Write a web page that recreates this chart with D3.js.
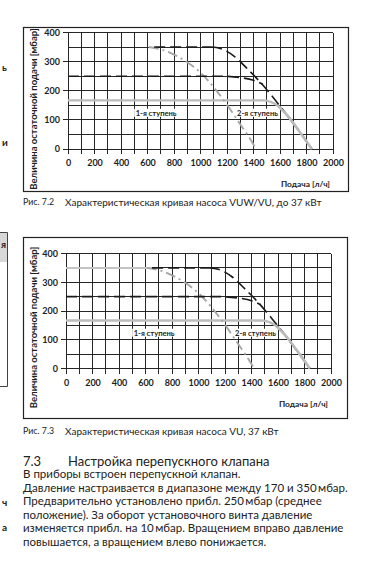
<!DOCTYPE html>
<html>
<head>
<meta charset="utf-8">
<script src="https://cdn.jsdelivr.net/npm/d3@7"></script>
<style>
  body { margin: 0; background: #fff; }
  svg { display: block; font-family: Lato, "Noto Sans", sans-serif; }
</style>
</head>
<body>
<svg id="page" width="371" height="564"></svg>
<script>
// axis tick labels
const flowTicks = [0, 200, 400, 600, 800, 1000, 1200, 1400, 1600, 1800, 2000];
const pressTicks = [0, 100, 200, 300, 400];

// 1st stage pump curve (grey dash-dot)
const stage1Flow = [610, 700, 800, 900, 1000, 1100, 1200, 1300, 1360, 1420];
const stage1Press = [350, 342, 324, 298, 262, 212, 152, 85, 45, 0];

// 2nd stage pump curve (black dashed)
const stage2Flow = [1080, 1150, 1250, 1350, 1450, 1550, 1650, 1750, 1840];
const stage2Press = [350, 345, 320, 277, 230, 176, 118, 58, 0];

// bypass valve settings
const set350Flow = [650, 1080];
const set350Press = [350, 350];
const set350LeftFlow = [0, 650];
const set350LeftPress = [350, 350];
const set250Flow = [0, 1150, 1300, 1400, 1470];
const set250Press = [250, 250, 245, 236, 222];
const set170Flow = [0, 1480, 1530, 1580, 1650, 1750, 1840];
const set170Press = [167, 167, 162, 150, 118, 58, 0];

// curve labels
const stageNames = ['1-я ступень', '2-я ступень'];
const stageLabelFlow = [665, 1430];
const stageLabelPress = [123, 123];

const zip = (a, b) => a.map((v, i) => [v, b[i]]);

const svg = d3.select('#page');
svg.append('rect').attr('width', 371).attr('height', 564).attr('fill', '#fff');

const charts = [
    {
        frame: [23, 27, 348, 191], xr: [68, 333], yr: [149, 32.5],
        fig: 'Рис. 7.2', caption: 'Характеристическая кривая насоса VUW/VU, до 37 кВт',
        capY: 202, leftLine: false,
    },
    {
        frame: [23, 237, 347, 418], xr: [66, 331], yr: [368.5, 253.5],
        fig: 'Рис. 7.3', caption: 'Характеристическая кривая насоса VU, 37 кВт',
        capY: 431, leftLine: true,
    },
];

charts.forEach((c) => {
    const g = svg.append('g');
    const x = d3.scaleLinear().domain([0, 2000]).range(c.xr);
    const y = d3.scaleLinear().domain([0, 400]).range(c.yr);
    const [fx0, fy0, fx1, fy1] = c.frame;

    g.append('rect')
        .attr('x', fx0 + 0.5).attr('y', fy0 + 0.5)
        .attr('width', fx1 - fx0).attr('height', fy1 - fy0)
        .attr('fill', 'none').attr('stroke', '#222').attr('stroke-width', 1.2);

    // grid
    const grid = g.append('g').attr('stroke', '#262626').attr('stroke-width', 1)
        .attr('shape-rendering', 'crispEdges');
    grid.selectAll('.v').data(d3.range(0, 2001, 100)).join('line')
        .attr('x1', (d) => x(d)).attr('x2', (d) => x(d))
        .attr('y1', y(400)).attr('y2', y(0) + 5);
    grid.selectAll('.h').data(d3.range(0, 401, 50)).join('line')
        .attr('x1', (d) => (d % 100 === 0 ? x(0) - 5 : x(0))).attr('x2', x(2000))
        .attr('y1', (d) => y(d)).attr('y2', (d) => y(d));

    // axes (labels only, grid does the lines)
    const xAxis = g.append('g').attr('transform', `translate(0,${y(0)})`)
        .call(d3.axisBottom(x).tickValues(flowTicks).tickFormat(d3.format('d'))
            .tickSize(0).tickPadding(11));
    const yAxis = g.append('g').attr('transform', `translate(${x(0)},0)`)
        .call(d3.axisLeft(y).tickValues(pressTicks).tickFormat(d3.format('d'))
            .tickSize(0).tickPadding(8));
    [xAxis, yAxis].forEach((a) => {
        a.select('.domain').remove();
        a.selectAll('text').attr('font-family', 'Lato, sans-serif')
            .attr('font-size', 9).attr('font-weight', 700).attr('fill', '#1e1e1e');
    });

    // axis titles
    const yMid = (fy0 + fy1) / 2;
    g.append('text')
        .attr('transform', `translate(${fx0 + 14},${yMid}) rotate(-90)`)
        .attr('text-anchor', 'middle').attr('font-size', 9.5).attr('font-weight', 700)
        .attr('fill', '#1e1e1e')
        .text('Величина остаточной подачи [мбар]');
    g.append('text')
        .attr('x', x(2000) - 3).attr('y', y(0) + 38)
        .attr('text-anchor', 'end').attr('font-size', 8.4).attr('font-weight', 700)
        .attr('fill', '#1e1e1e')
        .text('Подача [л/ч]');

    // stage labels on white
    stageNames.forEach((name, i) => {
        const t = g.append('text')
            .attr('x', x(stageLabelFlow[i])).attr('y', y(stageLabelPress[i]) + 2.6)
            .attr('text-anchor', 'middle').attr('font-size', 7.6).attr('font-weight', 700)
            .attr('fill', '#1e1e1e').text(name);
        const b = t.node().getBBox();
        g.insert('rect', () => t.node())
            .attr('x', b.x - 1.5).attr('y', b.y + 1).attr('width', b.width + 3)
            .attr('height', b.height - 2).attr('fill', '#fff');
    });

    const line = d3.line().x((d) => x(d[0])).y((d) => y(d[1])).curve(d3.curveMonotoneX);

    if (c.leftLine) {
        g.append('path').attr('d', line(zip(set350LeftFlow, set350LeftPress)))
            .attr('fill', 'none').attr('stroke', '#c4c4c4').attr('stroke-width', 2);
    }
    g.append('path').attr('d', line(zip(set170Flow, set170Press)))
        .attr('fill', 'none').attr('stroke', '#bcbcbc').attr('stroke-width', 2.4);
    g.append('path').attr('d', line(zip(stage1Flow, stage1Press)))
        .attr('fill', 'none').attr('stroke', '#a6a6a6').attr('stroke-width', 1.9)
        .attr('stroke-dasharray', '10,4,2,4');
    g.append('path').attr('d', line(zip(set250Flow, set250Press)))
        .attr('fill', 'none').attr('stroke', '#1a1a1a').attr('stroke-width', 1.6)
        .attr('stroke-dasharray', '11,5');
    g.append('path').attr('d', line(zip(set350Flow, set350Press)))
        .attr('fill', 'none').attr('stroke', '#1a1a1a').attr('stroke-width', 1.6)
        .attr('stroke-dasharray', '11,5');
    g.append('path').attr('d', line(zip(stage2Flow, stage2Press)))
        .attr('fill', 'none').attr('stroke', '#1a1a1a').attr('stroke-width', 1.6)
        .attr('stroke-dasharray', '11,5');
    // grey 170 curve runs over the lower part of the 2nd stage curve
    g.append('path').attr('d', line(zip(set170Flow, set170Press).slice(3)))
        .attr('fill', 'none').attr('stroke', '#bcbcbc').attr('stroke-width', 2.4);

    // caption
    svg.append('text').attr('x', 23).attr('y', c.capY + 3.3)
        .attr('font-size', 8.8).attr('fill', '#222').text(c.fig);
    svg.append('text').attr('x', 65).attr('y', c.capY + 3.5)
        .attr('font-size', 10).attr('fill', '#222').text(c.caption);
});

// clipped fragments from the neighbouring column
svg.append('rect').attr('x', -1).attr('y', 232).attr('width', 8).attr('height', 30)
    .attr('fill', '#d8d8d8');
svg.append('path').attr('d', 'M0,232.5H7.5V386.5H0').attr('fill', 'none')
    .attr('stroke', '#444').attr('stroke-width', 1);
const frag = [['ь', 2, 71], ['и', 2, 146], ['я', 1, 248], ['ч', 2, 506], ['а', 2, 531]];
frag.forEach(([t, fx, fy]) => {
    svg.append('text').attr('x', fx).attr('y', fy).attr('font-size', 10)
        .attr('font-weight', 700).attr('fill', '#222').text(t);
});

// section text
svg.append('text').attr('x', 23).attr('y', 465.5).attr('font-size', 13).attr('fill', '#222').text('7.3');
svg.append('text').attr('x', 68).attr('y', 465.5).attr('font-size', 13).attr('fill', '#222')
    .text('Настройка перепускного клапана');
const bodyLines = [
    'В приборы встроен перепускной клапан.',
    'Давление настраивается в диапазоне между 170 и 350\u2009мбар.',
    'Предварительно установлено прибл. 250\u2009мбар (среднее',
    'положение). За оборот установочного винта давление',
    'изменяется прибл. на 10\u2009мбар. Вращением вправо давление',
    'повышается, а вращением влево понижается.',
];
svg.append('g').selectAll('text').data(bodyLines).join('text')
    .attr('x', 23).attr('y', (d, i) => 478 + i * 13.5)
    .attr('font-size', 11.5).attr('fill', '#222').text((d) => d);
</script>
</body>
</html>
